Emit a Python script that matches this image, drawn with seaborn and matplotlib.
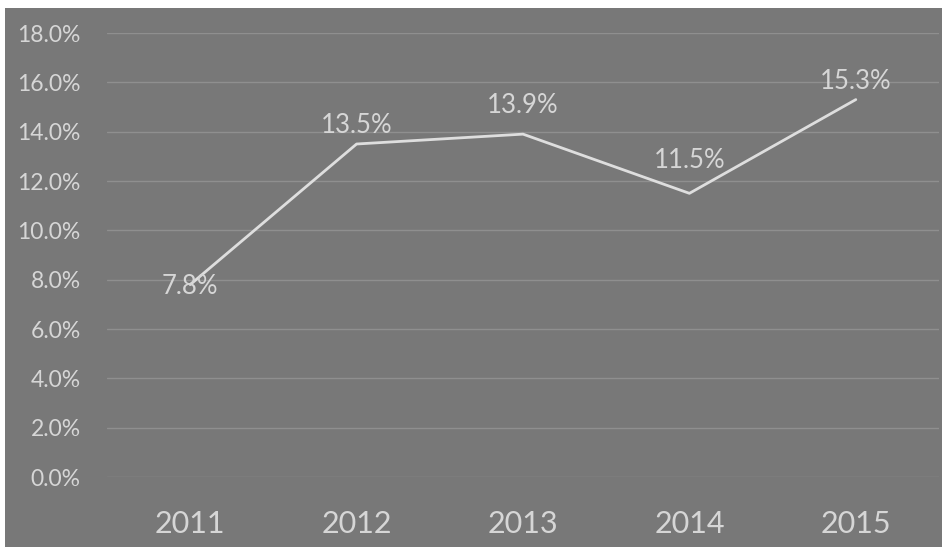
# ==== IMPORT LIBRARIES ====
import pandas as pd
import matplotlib.pyplot as plt
import matplotlib.patches as mpatches
from matplotlib.ticker import PercentFormatter
import seaborn as sns

# ==== DATA ====
years = ["2011", "2012", "2013", "2014", "2015"]
rates = [7.8, 13.5, 13.9, 11.5, 15.3]
label_offsets = [-2, 19, 29, 33, 18]   # px above each point

df = pd.DataFrame({"Year": years, "Rate": rates})

# ==== STYLE ====
sns.set_style("white")
plt.rcParams["font.family"] = ["Lato", "DejaVu Sans"]

bg = "#787878"
txt = "#d6d6d6"

fig = plt.figure(figsize=(9.42, 5.47), dpi=100, facecolor="white")
# gray scanned panel behind everything
fig.patches.append(mpatches.Rectangle((5 / 942, 0), 1, 1 - 8 / 547,
                                      transform=fig.transFigure,
                                      facecolor=bg, edgecolor="none", zorder=-10))

ax = fig.add_axes([107 / 942, 70 / 547, 832 / 942, 444 / 547])
ax.set_facecolor("none")

# ==== LINE CHART ====
sns.lineplot(data=df, x="Year", y="Rate", ax=ax, color="#dedede",
             linewidth=2, sort=False)

for i, (v, off) in enumerate(zip(rates, label_offsets)):
    ax.annotate(f"{v:.1f}%", (i, v), xytext=(0, off * 0.72),
                textcoords="offset points", ha="center", va="center",
                fontsize=18.5, color=txt)

ax.set_xlim(-0.5, 4.5)
ax.set_ylim(0, 18)
ax.set_yticks(range(0, 19, 2))
ax.yaxis.set_major_formatter(PercentFormatter(decimals=1))
ax.grid(axis="y", color="#8f8f8f", linewidth=1)
ax.set_axisbelow(True)

ax.tick_params(axis="y", length=0, pad=19, labelsize=16.5, labelcolor=txt)
ax.tick_params(axis="x", length=0, pad=24, labelsize=22, labelcolor=txt)
ax.set_xlabel("")
ax.set_ylabel("")
for s in ax.spines.values():
    s.set_visible(False)

plt.savefig("out.png", dpi=100, facecolor=fig.get_facecolor())
